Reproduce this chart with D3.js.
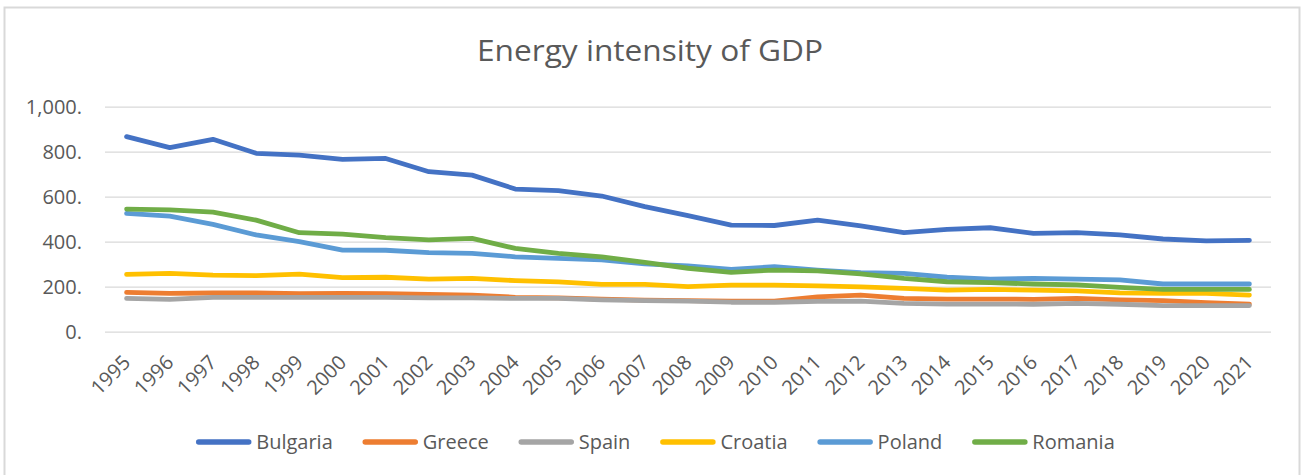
<!DOCTYPE html>
<html>
<head>
<meta charset="utf-8">
<script src="https://cdn.jsdelivr.net/npm/d3@7"></script>
<style>
  html, body { margin: 0; padding: 0; background: #fff; }
  svg { display: block; }
  text { font-family: "Open Sans", "Liberation Sans", sans-serif; fill: #595959; }
</style>
</head>
<body>
<svg id="chart" width="1304" height="475"></svg>
<script>
// Years on the category axis
const years = ["1995","1996","1997","1998","1999","2000","2001","2002","2003","2004",
  "2005","2006","2007","2008","2009","2010","2011","2012","2013","2014",
  "2015","2016","2017","2018","2019","2020","2021"];

// Energy intensity of GDP per country
const bulgaria = [867,818,855,793,785,766,770,711,696,634,627,603,556,516,474,472,496,470,440,455,462,437,440,430,412,404,406];
const greece   = [175,170,172,173,169,170,169,166,163,153,150,145,140,138,136,136,155,163,148,145,145,144,148,141,138,129,123];
const spain    = [148,144,153,153,153,153,153,150,150,148,148,141,138,136,131,131,135,136,126,123,123,122,126,122,116,116,116];
const croatia  = [255,259,251,249,256,240,242,234,237,227,221,210,210,200,207,207,204,199,193,185,188,185,181,173,170,170,163];
const poland   = [526,514,477,430,400,363,362,351,348,333,326,319,301,292,277,289,274,262,259,242,234,237,234,230,212,212,212];
const romania  = [545,541,531,496,440,434,418,408,415,370,348,333,308,282,264,274,270,257,237,222,218,212,208,197,188,188,188];

const seriesNames  = ["Bulgaria","Greece","Spain","Croatia","Poland","Romania"];
const seriesValues = [bulgaria, greece, spain, croatia, poland, romania];
const seriesColors = ["#4472C4","#ED7D31","#A5A5A5","#FFC000","#5B9BD5","#70AD47"];

const yTicks = [0, 200, 400, 600, 800, 1000];
const chartTitle = "Energy intensity of GDP";

const svg = d3.select("#chart");
const W = 1304, H = 475;

// Outer chart frame (left, top and right edges)
svg.append("path")
  .attr("d", `M4.5,${H} V7.5 H1299.5 V${H}`)
  .attr("fill", "none")
  .attr("stroke", "#D9D9D9")
  .attr("stroke-width", 2);

const plot = { left: 105, right: 1271, top: 106.7, bottom: 331.7 };

const x = d3.scaleBand().domain(years).range([plot.left, plot.right]);
const y = d3.scaleLinear().domain([0, 1000]).range([plot.bottom, plot.top]);
const cx = d => x(d) + x.bandwidth() / 2;

// Title
svg.append("text")
  .attr("x", 650).attr("y", 61)
  .attr("text-anchor", "middle")
  .attr("font-size", 29)
  .attr("textLength", 346)
  .attr("lengthAdjust", "spacingAndGlyphs")
  .text(chartTitle);

// Horizontal gridlines + value axis labels
const fmt = v => d3.format(",")(v) + ".";
const yAxis = d3.axisLeft(y).tickValues(yTicks).tickFormat(fmt)
  .tickSize(-(plot.right - plot.left)).tickPadding(23);
const gy = svg.append("g").attr("transform", `translate(${plot.left},0)`).call(yAxis);
gy.select(".domain").remove();
gy.selectAll(".tick line").attr("stroke", "#D9D9D9").attr("stroke-width", 1.3);
gy.selectAll(".tick text")
  .attr("font-size", 20)
  .attr("fill", "#595959")
  .attr("font-family", "\"Open Sans\", sans-serif")
  .attr("dy", "0.36em");

// Category axis labels, rotated
const xAxis = d3.axisBottom(x).tickSize(0).tickPadding(0);
const gx = svg.append("g").attr("transform", `translate(0,${plot.bottom})`).call(xAxis);
gx.select(".domain").remove();
gx.selectAll(".tick text")
  .attr("font-size", 20)
  .attr("fill", "#595959")
  .attr("font-family", "\"Open Sans\", sans-serif")
  .attr("text-anchor", "end")
  .attr("x", 0).attr("y", 0).attr("dy", 0)
  .attr("transform", "translate(5,32) rotate(-45)");

// Series lines
const line = d3.line().x((d, i) => cx(years[i])).y(d => y(d));
seriesValues.forEach((vals, k) => {
  svg.append("path")
    .datum(vals)
    .attr("d", line)
    .attr("fill", "none")
    .attr("stroke", seriesColors[k])
    .attr("stroke-width", 4.8)
    .attr("stroke-linejoin", "round")
    .attr("stroke-linecap", "round");
});

// Legend: swatch, label, fixed gap between entries, centred under the plot
const swatchLen = 55, swatchGap = 5, itemGap = 30, legendY = 442;
const lg = svg.append("g");
let cursor = 0;
seriesNames.forEach((name, k) => {
  const g = lg.append("g").attr("transform", `translate(${cursor},0)`);
  g.append("line")
    .attr("x1", 2.5).attr("x2", swatchLen - 2.5).attr("y1", legendY).attr("y2", legendY)
    .attr("stroke", seriesColors[k]).attr("stroke-width", 5.5)
    .attr("stroke-linecap", "round");
  const t = g.append("text")
    .attr("x", swatchLen + swatchGap).attr("y", legendY + 7)
    .attr("font-size", 20)
    .text(name);
  cursor += swatchLen + swatchGap + t.node().getComputedTextLength() + itemGap;
});
const legendWidth = cursor - itemGap;
lg.attr("transform", `translate(${655.5 - legendWidth / 2},0)`);
</script>
</body>
</html>
